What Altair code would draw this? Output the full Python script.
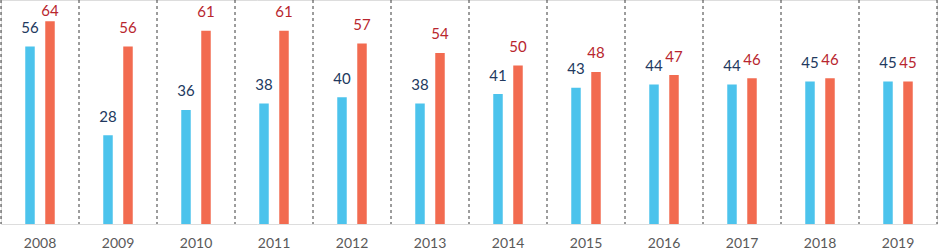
import altair as alt
import pandas as pd

years = ["2008", "2009", "2010", "2011", "2012", "2013", "2014", "2015", "2016", "2017", "2018", "2019"]
series_a = [56, 28, 36, 38, 40, 38, 41, 43, 44, 44, 45, 45]
series_b = [64, 56, 61, 61, 57, 54, 50, 48, 47, 46, 46, 45]
series_names = ["A", "B"]

rows = []
for i, y in enumerate(years):
    rows.append({"year": y, "series": "A", "value": series_a[i]})
    rows.append({"year": y, "series": "B", "value": series_b[i]})
df = pd.DataFrame(rows)
bounds = pd.DataFrame({"year": years})

FONT = "Lato"
xscale = alt.Scale(domain=years, paddingInner=0, paddingOuter=0)
yscale = alt.Scale(domain=[0, 70.7])
offscale = alt.Scale(domain=series_names, paddingInner=0, paddingOuter=0.95)
colscale = alt.Scale(domain=series_names, range=["#4cc3ec", "#f26b50"])
txtscale = alt.Scale(domain=series_names, range=["#22395e", "#b8262e"])

xaxis = alt.Axis(title=None, domain=False, ticks=False, labelAngle=0,
                 bandPosition=0.5, grid=False,
                 labelFont=FONT, labelFontSize=14, labelColor="#595959",
                 labelBaseline="middle", labelPadding=19)

base = alt.Chart(df)

bars = base.mark_bar(width=9.5).encode(
    x=alt.X("year:N", scale=xscale, axis=xaxis),
    xOffset=alt.XOffset("series:N", scale=offscale),
    y=alt.Y("value:Q", scale=yscale, axis=None),
    color=alt.Color("series:N", scale=colscale, legend=None),
)

labels = base.transform_calculate(
    ly="min(datum.value, 61.3)"
).mark_text(dy=-18.5, baseline="middle", font=FONT, fontSize=15).encode(
    x=alt.X("year:N", scale=xscale, axis=xaxis),
    xOffset=alt.XOffset("series:N", scale=offscale),
    y=alt.Y("ly:Q", scale=yscale, axis=None),
    text=alt.Text("value:Q"),
    color=alt.Color("series:N", scale=txtscale, legend=None),
)

rule_style = dict(color="#3a3a3a", strokeDash=[3, 3], strokeWidth=1)
rules_left = alt.Chart(bounds).mark_rule(**rule_style).encode(
    x=alt.X("year:N", scale=xscale, bandPosition=0, axis=xaxis),
    y=alt.value(0),
    y2=alt.value(224),
)
rules_right = alt.Chart(bounds).transform_filter(
    alt.datum.year == years[-1]
).mark_rule(**rule_style).encode(
    x=alt.X("year:N", scale=xscale, bandPosition=1, axis=xaxis),
    y=alt.value(0),
    y2=alt.value(224),
)

chart = alt.layer(bars, labels, rules_left, rules_right).resolve_scale(
    color="independent"
).properties(
    width=936, height=224,
    autosize=alt.AutoSizeParams(type="none"),
    padding={"left": 1, "right": 1, "top": 0, "bottom": 27},
).configure_view(stroke=None).configure(background="white")

chart.save("out.html", embed_options={"renderer": "svg", "actions": False})
